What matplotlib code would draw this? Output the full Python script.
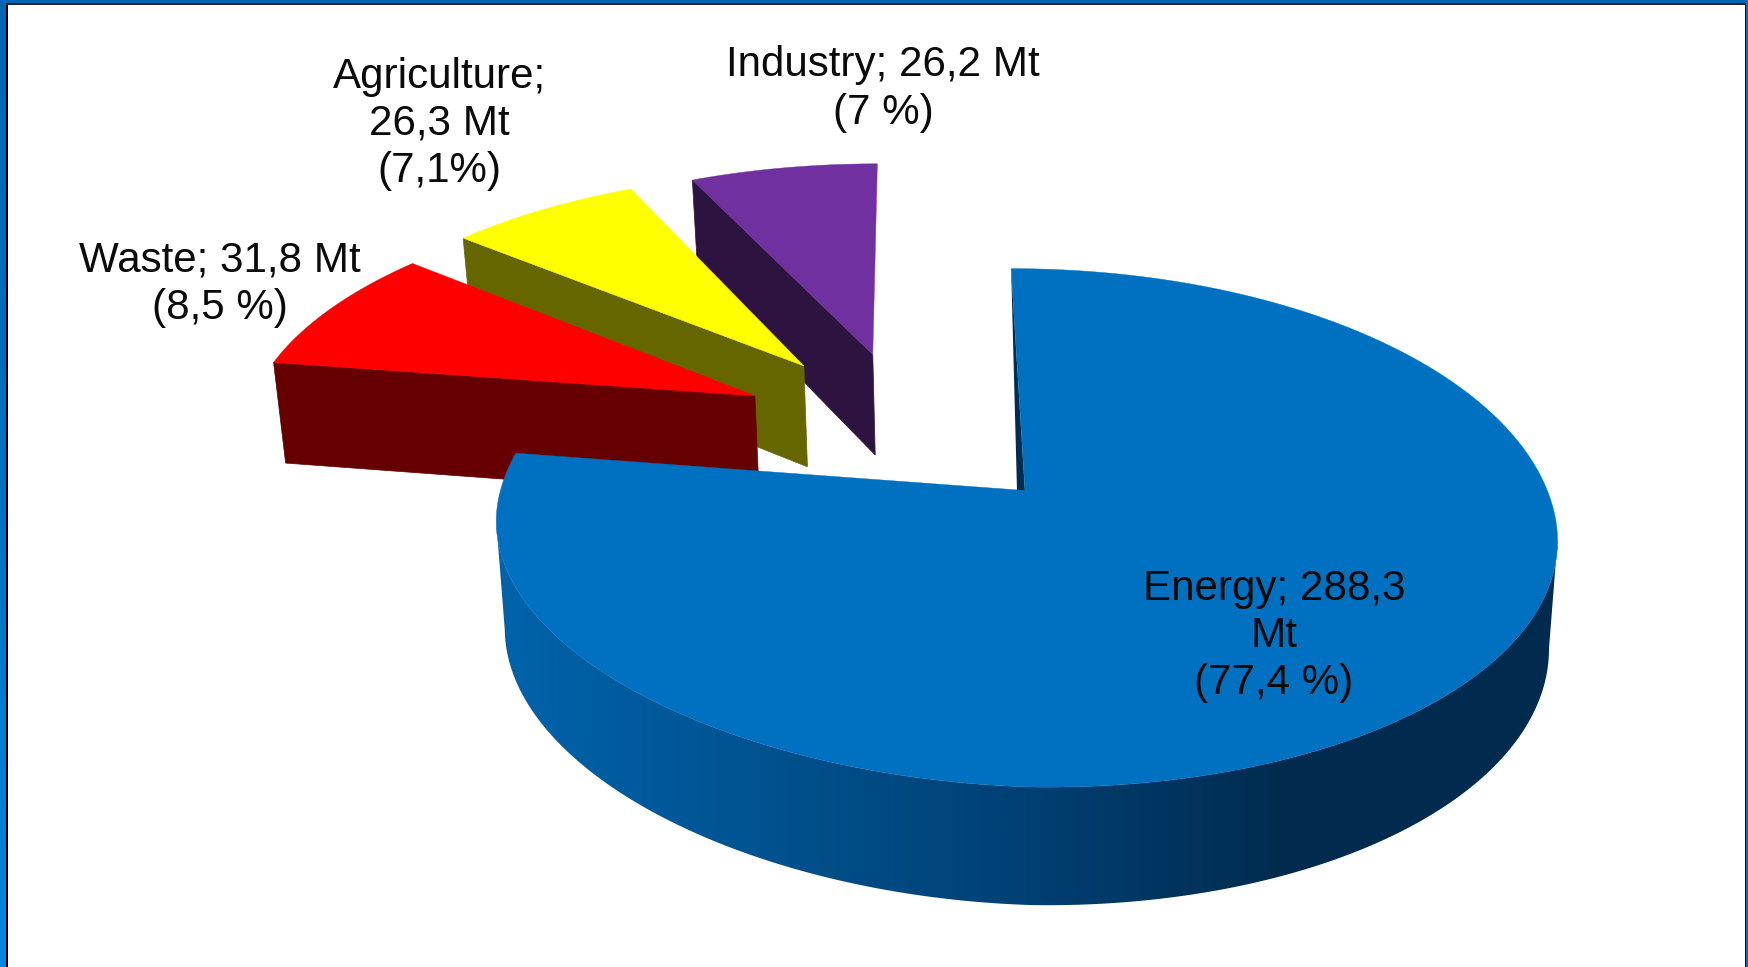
import numpy as np
import matplotlib
matplotlib.use('Agg')
import matplotlib.pyplot as plt
from matplotlib.patches import Polygon, Rectangle
from matplotlib.colors import LinearSegmentedColormap

# emissions by sector, clockwise from 12 o'clock
sectors = ['Energy', 'Waste', 'Agriculture', 'Industry']
percent = [77.4, 8.5, 7.1, 7.0]
labels = ['Energy; 288,3\nMt\n(77,4 %)',
          'Waste; 31,8 Mt\n(8,5 %)',
          'Agriculture;\n26,3 Mt\n(7,1%)',
          'Industry; 26,2 Mt\n(7 %)']

top_colors = ['#0070C0', '#FF0000', '#FFFF00', '#7030A0']
side_colors = ['#002C50', '#660000', '#666600', '#2C1340']

# how far each slice is pulled out, in disk units (x, y)
explode = [(0.0, 0.0), (-0.534, 0.394), (-0.441, 0.528), (-0.303, 0.58)]
apex_dx = [5, 4, 4, 5]
label_pos = [(1274, 636), (220, 284), (439, 124), (883, 89)]

# disk projection, all in pixels
CX, CY = 1020, 490.5
RX, RY = 525, 253.8
PERSP = 0.144
SHEAR = 0.04


def project(u, v, warp=False):
    w = 1 + PERSP * v
    y = CY - RY * v / w
    x = CX + RX * u / w + SHEAR * (y - CY)
    if warp:
        # the big slice sits slightly skewed: right side lower, lower left higher
        x = x + 5.5 * (1 - v ** 2) * np.hypot(u, v)
        y = y + np.where(u > 0, 9 * u * (1 - np.maximum(v, 0)), 18 * u * np.maximum(-v, 0))
    return x, y


# same point on the underside of the slab
def drop(x, y):
    return 1027 + (x - 1027) * 0.984, y * 1.041 + 85.8


def rim(a1, a2, off, n=200, warp=False):
    t = np.radians(np.linspace(a1, a2, n))
    return project(np.sin(t) + off[0], np.cos(t) + off[1], warp)


fig = plt.figure(figsize=(17.48, 9.67), dpi=100)
ax = fig.add_axes([0, 0, 1, 1])

# slide frame
ax.imshow(np.linspace(0, 1, 256).reshape(-1, 1), extent=(0, 6, 967, 0), aspect='auto',
          cmap=LinearSegmentedColormap.from_list('frame', ['#0066B3', '#0070C0', '#0088DD']), zorder=1)
ax.add_patch(Rectangle((0, 0), 1748, 3, color='#0066B3', lw=0, zorder=1))
ax.add_patch(Rectangle((1745.5, 0), 2.5, 967, color='#0070C0', lw=0, zorder=1))
ax.add_patch(Rectangle((6, 3), 2, 964, color='black', lw=0, zorder=2))
ax.add_patch(Rectangle((6, 3), 1740, 1.5, color='#222222', lw=0, zorder=2))
ax.add_patch(Rectangle((1744.5, 3), 1, 964, color='#111111', lw=0, zorder=2))

ends = np.cumsum(percent) * 3.6
starts = np.concatenate(([0], ends[:-1]))

# back slices first, the big one goes on top
for i in [3, 2, 1]:
    z = 10 + (3 - i) * 2
    off = explode[i]
    ax_, ay_ = project(off[0], off[1])
    ax_ += apex_dx[i]
    x, y = rim(starts[i], ends[i], off)
    bx, by = drop(ax_, ay_)
    ex, ey = drop(x[0], y[0])
    # cut face on the lower left edge
    ax.add_patch(Polygon([(ax_, ay_), (x[0], y[0]), (ex, ey), (bx, by)],
                         fc=side_colors[i], ec=side_colors[i], lw=0.5, zorder=z))
    ax.add_patch(Polygon(np.column_stack((np.r_[ax_, x], np.r_[ay_, y])),
                         fc=top_colors[i], ec=top_colors[i], lw=0.3, zorder=z + 1))

# big slice: outer wall with shading across it
off = explode[0]
x, y = rim(starts[0], ends[0], off, 600, warp=True)
bx, by = drop(x, y)
i1, i2 = np.argmax(x), np.argmin(x)
j1, j2 = np.argmax(bx), np.argmin(bx)
wall = np.vstack((np.column_stack((x[i1:i2], y[i1:i2])),
                  np.column_stack((bx[j1:j2], by[j1:j2]))[::-1]))
wall_cmap = LinearSegmentedColormap.from_list('wall', [(0, '#0064AC'), (0.25, '#005290'), (0.51, '#003F72'),
                                                       (0.74, '#002B4E'), (1, '#002C50')])
shade = ax.imshow(np.linspace(0, 1, 512).reshape(1, -1), extent=(490, 1570, 967, 0), aspect='auto',
                  cmap=wall_cmap, zorder=20)
shade.set_clip_path(Polygon(wall, transform=ax.transData))

# thin sliver of the cut face at 12 o'clock
apx, apy = project(off[0], off[1])
apx += apex_dx[0]
ax.add_patch(Polygon([(x[0], y[0]), (apx - 8, apy), (apx, apy + 1)],
                     fc=side_colors[0], ec='none', zorder=21))
ax.add_patch(Polygon(np.column_stack((np.r_[apx, x], np.r_[apy, y])),
                     fc=top_colors[0], ec=top_colors[0], lw=0.3, zorder=22))

for (tx, ty), txt in zip(label_pos, labels):
    ax.text(tx, ty, txt, ha='center', va='center', fontsize=30.3, family='Liberation Sans',
            color='#0a0a0a', linespacing=1.24, zorder=30)

ax.set_xlim(0, 1748)
ax.set_ylim(967, 0)
ax.axis('off')

fig.savefig('out.png', dpi=100)
